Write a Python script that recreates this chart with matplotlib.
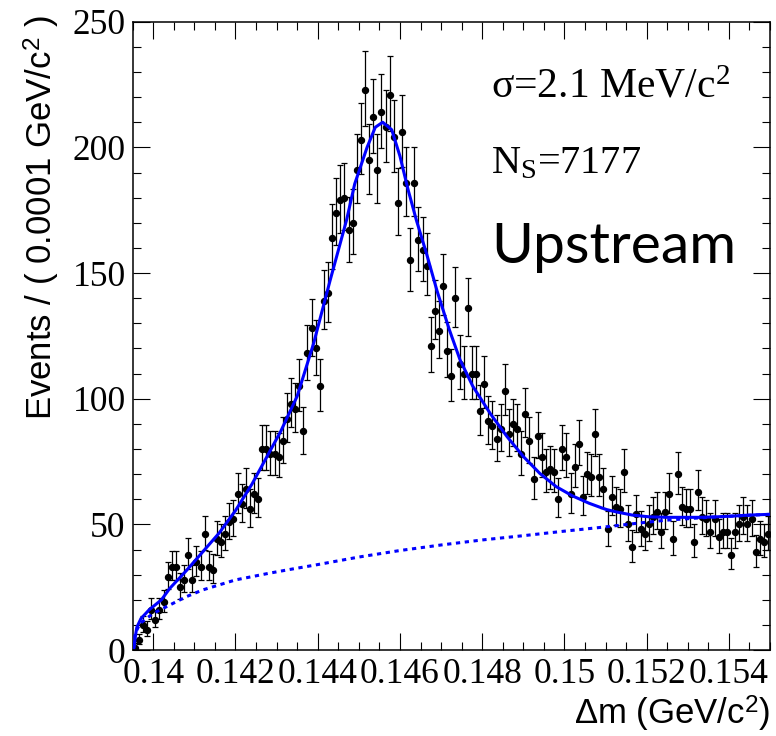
import numpy as np
import matplotlib
matplotlib.use('Agg')
import matplotlib.pyplot as plt
from matplotlib.ticker import MultipleLocator, FuncFormatter

# ---------------- data ----------------
x_min, x_max, bin_width = 0.1395, 0.155, 0.0001

counts = [
    1, 4, 10, 8, 16, 12, 16, 19, 29, 33,
    33, 25, 28, 38, 28, 35, 33, 46, 33, 32,
    44, 43, 46, 51, 52, 62, 58, 64, 56, 62,
    60, 80, 80, 78, 78, 77, 83, 92, 98, 96,
    105, 87, 118, 128, 120, 105, 139, 142, 164, 174,
    179, 180, 167, 170, 191, 203, 223, 195, 212, 191,
    214, 208, 221, 204, 178, 206, 186, 155, 186, 163,
    159, 153, 121, 135, 127, 145, 119, 109, 140, 114,
    110, 136, 110, 110, 95, 106, 91, 89, 84, 88,
    103, 86, 90, 88, 78, 94, 83, 68, 85, 77,
    71, 72, 71, 60, 80, 77, 62, 73, 82, 61,
    70, 69, 86, 69, 64, 48, 61, 57, 56, 71,
    50, 41, 54, 48, 46, 50, 53, 55, 47, 55,
    62, 44, 70, 57, 56, 56, 43, 63, 53, 52,
    47, 52, 45, 47, 47, 38, 47, 50, 53, 50,
    52, 39, 44, 43, 46,
]

fit_x = [0.13953, 0.13956, 0.1396, 0.1397, 0.1399, 0.1402, 0.1404, 0.1408,
         0.1412, 0.1416, 0.1420, 0.1424, 0.1428, 0.1431, 0.1435, 0.1439,
         0.1443, 0.1447, 0.1449, 0.1452, 0.1454, 0.14558, 0.1458, 0.1460,
         0.1462, 0.1464, 0.14665, 0.1469, 0.1472, 0.14746, 0.14777, 0.1482,
         0.1486, 0.1490, 0.1494, 0.1498, 0.1502, 0.1506, 0.1510, 0.15125,
         0.15165, 0.15206, 0.1525, 0.1529, 0.1533, 0.1537, 0.1541, 0.1545, 0.1550]
fit_y = [1, 5, 9, 12.5, 16, 20, 24.5, 31.5,
         39, 46.5, 55.5, 66, 78, 87, 101, 122,
         147, 171, 185.5, 200, 208, 210, 207, 196.5,
         183, 171, 157.5, 143, 127.5, 115.5, 105, 94,
         85, 77, 70.3, 65, 61.3, 58.4, 56, 55,
         53.7, 53, 52.8, 52.8, 52.8, 53, 53.3, 53.7, 54]

bkg_x = [0.13953, 0.13956, 0.13968, 0.1400, 0.1404, 0.1408, 0.1412, 0.1416,
         0.1420, 0.1424, 0.1428, 0.1433, 0.1440, 0.1450, 0.1460, 0.1470,
         0.1480, 0.1490, 0.1500, 0.1510, 0.1518, 0.1525, 0.1533, 0.1541, 0.1550]
bkg_y = [1, 6.6, 10.6, 14.6, 17.9, 21.2, 23.9, 25.9,
         27.9, 29.2, 30.5, 32.0, 34, 37.0, 39.6, 41.8,
         43.8, 45.5, 47.3, 49, 50.5, 51.7, 52.6, 53.3, 54]

x_tick_labels = ['0.14', '0.142', '0.144', '0.146', '0.148', '0.15', '0.152', '0.154']

# ---------------- style ----------------
plt.rcParams['mathtext.fontset'] = 'custom'
plt.rcParams['mathtext.rm'] = 'Liberation Serif'
plt.rcParams['mathtext.it'] = 'Liberation Serif:italic'
plt.rcParams['mathtext.sf'] = 'Liberation Sans'

fig = plt.figure(figsize=(7.76, 7.36), dpi=100)
ax = fig.add_axes([0.171, 0.1168, 0.8213, 0.8537])

n = np.array(counts, dtype=float)
centers = x_min + bin_width * (np.arange(len(n)) + 0.5)
err_lo = np.sqrt(n + 0.25) - 0.5
err_hi = np.sqrt(n + 0.25) + 0.5

ax.errorbar(centers, n, yerr=[err_lo, err_hi], fmt='o', color='black',
            ms=4.3, elinewidth=0.9, capsize=2.0, capthick=0.9, zorder=2)
ax.plot(bkg_x, bkg_y, color=(0, 0, 1), lw=2.2, ls=(0, (1.4, 1.5)), zorder=3)
ax.plot(fit_x, fit_y, color=(0, 0, 1), lw=2.2, zorder=4)

ax.set_xlim(x_min, x_max)
ax.set_ylim(0, 250)

ax.xaxis.set_major_locator(MultipleLocator(0.002))
ax.xaxis.set_minor_locator(MultipleLocator(0.0005))
ax.yaxis.set_major_locator(MultipleLocator(50))
ax.yaxis.set_minor_locator(MultipleLocator(10))

def xfmt(v, pos):
    idx = int(round((v - 0.14) / 0.002))
    if 0 <= idx < len(x_tick_labels):
        return x_tick_labels[idx]
    return ''

ax.xaxis.set_major_formatter(FuncFormatter(xfmt))
ax.yaxis.set_major_formatter(FuncFormatter(lambda v, p: '%d' % v))

ax.tick_params(which='both', direction='in', top=True, right=True, width=0.8)
ax.tick_params(which='major', length=12)
ax.tick_params(which='minor', length=6)
ax.tick_params(axis='x', pad=6)
ax.tick_params(axis='y', pad=5)
for lab in ax.get_xticklabels() + ax.get_yticklabels():
    lab.set_fontfamily('Liberation Serif')
    lab.set_fontsize(25.5)
for sp in ax.spines.values():
    sp.set_linewidth(1.1)

fig.text(0.054, 1 - 15 / 736, r'Events / ( 0.0001 GeV/c$^{\mathsf{2}}$ )', rotation=90,
         ha='center', va='top', fontsize=25, family='Liberation Sans')
fig.text(770 / 776, 1 - 714 / 736, r'Δm (GeV/c$^{\mathsf{2}}$)', ha='right', va='center',
         fontsize=25, family='Liberation Sans')

tx = 0.14822
ax.text(tx, 219.9, r'σ=2.1 MeV/c$^{2}$', ha='left', va='baseline',
        fontsize=30, family='Liberation Serif')
ax.text(tx, 189.7, r'N$_\mathrm{S}$=7177', ha='left', va='baseline',
        fontsize=29, family='Liberation Serif')
ax.text(tx, 154, 'Upstream', ha='left', va='baseline',
        fontsize=41, family='Lato')

fig.savefig('out.png', dpi=100)
